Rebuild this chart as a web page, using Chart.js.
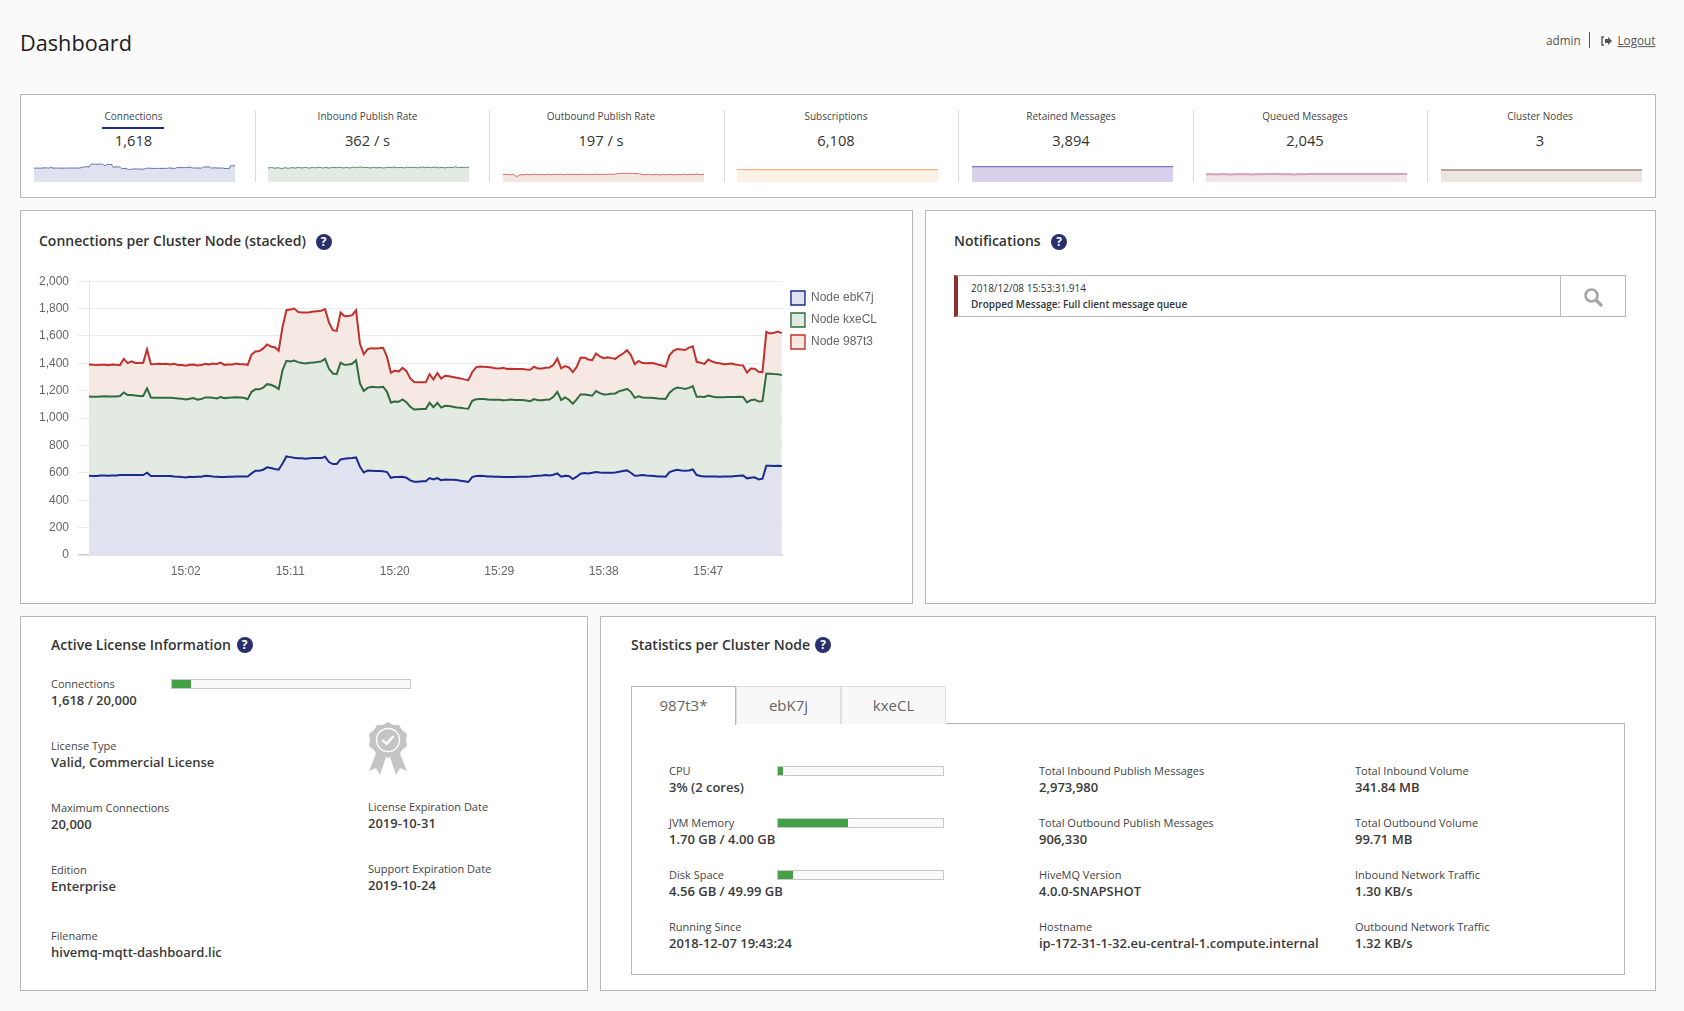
<!DOCTYPE html>
<html>
<head>
<meta charset="utf-8">
<title>Dashboard</title>
<script src="https://cdn.jsdelivr.net/npm/chart.js@4/dist/chart.umd.min.js"></script>
<style>
    html, body { margin: 0; padding: 0; background: #fafafa; }
    body { position: relative; width: 1684px; height: 1011px; overflow: hidden; font-family: "Open Sans", sans-serif; color: #3c3c3c; }
    .panel { position: absolute; box-sizing: border-box; background: #fff; border: 1px solid #b8b8b8; }
    .txt { position: absolute; white-space: nowrap; transform: translateY(-50%); line-height: 1; }
    .center { transform: translate(-50%, -50%); }
    .title { font-size: 21.7px; color: #1e1e1e; }
    .head { font-size: 14px; font-weight: 600; color: #333; }
    .tile { font-size: 10px; color: #444; }
    .tileValue { font-size: 14.7px; color: #333; }
    .label { font-size: 11px; color: #444; }
    .value { font-size: 13px; font-weight: 600; color: #3a3a3a; }
    .top { font-size: 11.7px; color: #555; }
    .note { font-size: 10px; color: #333; }
    .tabText { font-size: 15px; color: #666; }
    .help { position: absolute; width: 16px; height: 16px; border-radius: 50%; background: #2a2f6e; color: #fff; font-size: 12px; font-weight: 700; line-height: 16px; text-align: center; transform: translate(-50%, -50%); }
    .divider { position: absolute; width: 1px; background: #dcdcdc; }
    .bar { position: absolute; box-sizing: border-box; height: 10px; background: #fafafa; border: 1px solid #c8c8c8; }
    .bar div { height: 100%; background: #43a047; }
    .tab { position: absolute; box-sizing: border-box; top: 686px; height: 38px; background: #f8f8f8; border: 1px solid #dedede; border-bottom: none; }
    canvas { position: absolute; }
    svg { display: block; }
</style>
</head>
<body>
<script>
    // main chart, one sample every 20 seconds starting 14:53:40
    const startMinute = 893 + 40 / 60;
    const tickMinutes = [902, 911, 920, 929, 938, 947];
    const nodeNames = ['Node ebK7j', 'Node kxeCL', 'Node 987t3'];
    const nodeEbK7j = [579,577,577,581,581,579,581,581,584,584,584,584,584,584,584,601,577,577,577,577,
        577,577,574,572,569,567,572,569,572,572,579,577,574,572,569,569,572,572,574,574,
        574,574,596,616,616,623,640,635,628,623,669,720,715,710,706,706,703,706,708,708,
        708,718,679,664,664,698,703,706,708,713,645,603,618,616,613,613,611,606,564,569,
        569,572,564,545,535,535,538,538,562,552,562,547,552,550,550,547,543,538,533,569,
        577,579,577,574,574,572,572,569,569,569,569,572,572,572,574,577,579,581,584,581,
        586,596,572,579,577,555,572,594,599,596,601,606,603,601,601,601,603,608,613,618,
        601,579,581,584,581,579,577,574,574,572,606,616,623,618,616,618,625,584,577,574,
        574,574,574,572,574,574,574,577,579,581,560,564,567,552,557,652,652,650,652,650];
    const nodeKxeCL = [579,579,579,577,579,579,577,577,577,603,584,584,581,577,577,616,574,572,572,572,
        572,572,572,572,572,569,569,577,562,567,572,574,574,572,584,577,577,579,579,577,
        574,564,596,594,594,599,608,608,603,589,681,698,698,710,703,696,696,698,698,701,
        706,715,681,662,657,706,686,686,689,710,608,596,603,613,613,613,618,586,550,552,
        550,564,552,538,528,530,528,528,550,528,550,530,538,538,533,530,533,533,535,557,
        560,560,562,562,560,562,562,562,564,567,564,560,560,557,550,562,552,550,550,555,
        569,596,560,572,557,550,564,579,574,572,562,591,579,572,574,577,577,589,591,596,
        591,569,579,567,567,569,569,569,567,567,579,594,601,601,596,603,608,572,579,581,
        591,584,579,581,579,581,581,577,577,574,555,567,569,569,567,674,672,672,669,664];
    const node987t3 = [234,234,231,231,229,229,234,231,226,246,234,246,238,241,243,285,243,246,248,246,
        248,243,251,243,246,246,248,246,251,248,246,241,251,251,253,243,243,241,246,243,
        246,251,272,277,280,287,290,280,287,280,316,370,380,380,367,370,372,370,372,372,
        370,363,338,316,316,367,355,353,355,365,292,268,282,282,282,285,285,255,217,226,
        221,231,229,207,200,197,195,195,209,202,217,212,219,217,217,217,214,212,209,209,
        234,238,236,238,236,231,229,236,226,224,226,226,226,226,229,236,231,231,234,234,
        234,243,231,229,236,231,238,268,270,260,260,275,268,265,270,260,253,258,268,282,
        268,246,258,251,253,255,255,248,243,236,275,282,280,282,285,294,292,255,248,241,
        263,255,251,248,241,241,243,238,231,229,217,231,224,217,212,304,294,302,311,307];

    // summary tiles
    const tileNames = ['Connections', 'Inbound Publish Rate', 'Outbound Publish Rate', 'Subscriptions', 'Retained Messages', 'Queued Messages', 'Cluster Nodes'];
    const tileValues = ['1,618', '362 / s', '197 / s', '6,108', '3,894', '2,045', '3'];
    const inboundRate = [352,364,346,360,338,358,344,362,350,366,352,368,348,364,356,372,352,366,350,370,
        358,368,354,366,352,372,358,380,360,370,352,366,356,364,350,372,360,376,358,368,
        354,374,360,370,356,378,362,372,358,380,356,368,354,372,360,384,358,370,364,374];
    const outboundRate = [188,196,184,198,130,190,182,196,186,200,188,194,184,198,186,200,190,196,186,202,
        190,198,188,200,192,196,186,202,192,198,188,202,194,200,220,222,218,224,220,216,
        210,192,186,196,182,194,180,190,184,198,182,196,186,200,184,198,190,204,188,197];
    const subscriptionCount = [6150,6150,6145,6145,6140,6140,6135,6130,6120,6110,6100,6100,6090,6090,6090,6095,6095,6100,6100,6090,
        6080,6080,6085,6090,6095,6100,6100,6105,6105,6105,6105,6108,6108,6108,6108,6108,6108,6108,6108,6108];
    const retainedCount = [3894,3894,3894,3894,3894,3894,3894,3894,3894,3894,3894,3894,3894,3894,3894,3894,3894,3894,3894,3894];
    const queuedCount = [1980,2045,1900,2045,1960,1900,2045,1980,2045,1900,2045,1960,2045,2045,2045,1980,2045,1920,2045,1980,
        2045,2045,2045,2045,2045,2045,2045,2045,2045,2045,2045,2045,2045,2045,2045,2045,2045,2045,2045,2045];
    const clusterCount = [3,3,3,3,3,3,3,3,3,3,3,3,3,3,3,3,3,3,3,3];
    const connectionTotals = nodeEbK7j.map((v, i) => v + nodeKxeCL[i] + node987t3[i]);
    const tileSeries = [connectionTotals, inboundRate, outboundRate, subscriptionCount, retainedCount, queuedCount, clusterCount];
    const tileMax = [2200, 553, 563, 10837, 5563, 5624, 5.5];
    const tileCenters = [133.5, 367.5, 601, 836, 1071, 1305, 1540];
    const sparkLeft = [34, 268, 503, 737, 972, 1206, 1441];
    const sparkLines = ['#5a6ab4', '#4f7d5c', '#d2605a', '#f6b27c', '#8576c4', '#d3a3b8', '#b8a595'];
    const sparkFills = ['#e0e2f0', '#e3eae2', '#f6e6e0', '#fcf1e5', '#d9d1ec', '#f1e5eb', '#ede6e0'];
    const sparkWidths = [1, 0.9, 0.9, 1.2, 1.3, 2, 2];
    const dividerX = [254.5, 489, 723.5, 958, 1192.5, 1427];

    // text blocks
    const licenseFields = [
        ['Connections', '1,618 / 20,000', 51, 682.5],
        ['License Type', 'Valid, Commercial License', 51, 744.5],
        ['Maximum Connections', '20,000', 51, 806.5],
        ['Edition', 'Enterprise', 51, 868.5],
        ['Filename', 'hivemq-mqtt-dashboard.lic', 51, 934.5],
        ['License Expiration Date', '2019-10-31', 368, 805.5],
        ['Support Expiration Date', '2019-10-24', 368, 867.5]
    ];
    const statFields = [
        ['CPU', '3% (2 cores)', 669, 769.5],
        ['JVM Memory', '1.70 GB / 4.00 GB', 669, 821.5],
        ['Disk Space', '4.56 GB / 49.99 GB', 669, 873.5],
        ['Running Since', '2018-12-07 19:43:24', 669, 925.5],
        ['Total Inbound Publish Messages', '2,973,980', 1039, 769.5],
        ['Total Outbound Publish Messages', '906,330', 1039, 821.5],
        ['HiveMQ Version', '4.0.0-SNAPSHOT', 1039, 873.5],
        ['Hostname', 'ip-172-31-1-32.eu-central-1.compute.internal', 1039, 925.5],
        ['Total Inbound Volume', '341.84 MB', 1355, 769.5],
        ['Total Outbound Volume', '99.71 MB', 1355, 821.5],
        ['Inbound Network Traffic', '1.30 KB/s', 1355, 873.5],
        ['Outbound Network Traffic', '1.32 KB/s', 1355, 925.5]
    ];
    const usageBars = [
        [8.1, 171, 680, 240],
        [3, 777, 767, 167],
        [42.5, 777, 819, 167],
        [9.1, 777, 871, 167]
    ];

    function box(x, y, w, h) {
        const el = document.createElement('div');
        el.className = 'panel';
        el.style.cssText = `left:${x}px;top:${y}px;width:${w}px;height:${h}px`;
        document.body.appendChild(el);
        return el;
    }

    function text(str, x, y, cls) {
        const el = document.createElement('span');
        el.className = 'txt ' + cls;
        el.textContent = str;
        el.style.left = x + 'px';
        el.style.top = y + 'px';
        document.body.appendChild(el);
        return el;
    }

    function helpIcon(x, y) {
        const el = document.createElement('span');
        el.className = 'help';
        el.textContent = '?';
        el.style.left = x + 'px';
        el.style.top = y + 'px';
        document.body.appendChild(el);
    }

    function svgIcon(markup, x, y, w, h) {
        const holder = document.createElement('div');
        holder.style.cssText = `position:absolute;left:${x}px;top:${y}px;width:${w}px;height:${h}px`;
        holder.innerHTML = markup;
        document.body.appendChild(holder);
    }

    function addCanvas(x, y, w, h) {
        const wrap = document.createElement('div');
        wrap.style.cssText = `position:absolute;left:${x}px;top:${y}px;width:${w}px;height:${h}px`;
        const canvas = document.createElement('canvas');
        wrap.appendChild(canvas);
        document.body.appendChild(wrap);
        return canvas;
    }

    function formatMinute(value) {
        const minute = String(value % 60).padStart(2, '0');
        return `${Math.floor(value / 60)}:${minute}`;
    }

    function renderStaticParts() {
        text('Dashboard', 20, 43, 'title');
        text('admin', 1546, 41, 'top');
        const sep = document.createElement('div');
        sep.className = 'divider';
        sep.style.cssText = 'left:1589px;top:32px;height:16px;background:#555';
        document.body.appendChild(sep);
        svgIcon('<svg width="11" height="10" viewBox="0 0 11 10"><path d="M3 1H1v8h2" fill="none" stroke="#555" stroke-width="1.4"/><path d="M4 3h3V1l4 4-4 4V7H4z" fill="#555"/></svg>', 1601, 36, 11, 10);
        text('Logout', 1617.5, 41, 'top').style.textDecoration = 'underline';

        box(20, 94, 1636, 104);
        box(20, 210, 893, 394);
        box(925, 210, 731, 394);
        box(20, 616, 568, 375);
        box(600, 616, 1056, 375);
        box(631, 723, 994, 252);

        tileNames.forEach((name, i) => {
            text(name, tileCenters[i], 116, 'center tile');
            text(tileValues[i], tileCenters[i], 139.5, 'center tileValue');
        });
        const marker = document.createElement('div');
        marker.style.cssText = 'position:absolute;left:102px;top:127px;width:62px;height:2px;background:#1a2a8e';
        document.body.appendChild(marker);
        dividerX.forEach(x => {
            const d = document.createElement('div');
            d.className = 'divider';
            d.style.cssText = `left:${x}px;top:110px;height:72px`;
            document.body.appendChild(d);
        });

        text('Connections per Cluster Node (stacked)', 39, 241, 'head');
        helpIcon(323.5, 241.5);
        text('Notifications', 954, 241, 'head');
        helpIcon(1059, 241.5);
        text('Active License Information', 51, 645, 'head');
        helpIcon(244.5, 645);
        text('Statistics per Cluster Node', 631, 645, 'head');
        helpIcon(823, 645);

        const noteBox = box(954, 275, 672, 42);
        noteBox.style.borderLeft = '4px solid #8e2f2f';
        const noteSep = document.createElement('div');
        noteSep.className = 'divider';
        noteSep.style.cssText = 'left:1560px;top:275px;height:42px;background:#b8b8b8';
        document.body.appendChild(noteSep);
        text('2018/12/08 15:53:31.914', 971, 288, 'note');
        text('Dropped Message: Full client message queue', 971, 304, 'note').style.fontWeight = '600';
        svgIcon('<svg width="20" height="20" viewBox="0 0 20 20"><circle cx="8.5" cy="8.5" r="6" fill="none" stroke="#a5a5a5" stroke-width="2.6"/><path d="M13 13l5 5" stroke="#a5a5a5" stroke-width="3.2" stroke-linecap="round"/></svg>', 1583, 287, 20, 20);

        licenseFields.concat(statFields).forEach(f => {
            text(f[0], f[2], f[3], 'label');
            text(f[1], f[2], f[3] + 17.5, 'value');
        });
        usageBars.forEach(b => {
            const bar = document.createElement('div');
            bar.className = 'bar';
            bar.style.cssText = `left:${b[1]}px;top:${b[2] - 1}px;width:${b[3]}px`;
            const fill = document.createElement('div');
            fill.style.width = b[0] + '%';
            bar.appendChild(fill);
            document.body.appendChild(bar);
        });
        svgIcon('<svg width="42" height="54" viewBox="0 0 42 54"><path d="M10 30L2 50l7-3 4 7 6-18zM32 30l8 20-7-3-4 7-6-18z" fill="#c4c4c4"/><path d="M21 1l5 3 6 0 3 5 5 4-1 6 1 6-5 4-3 5-6 0-5 3-5-3-6 0-3-5-5-4 1-6-1-6 5-4 3-5 6 0z" fill="#c4c4c4"/><circle cx="21" cy="19" r="11.5" fill="none" stroke="#fff" stroke-width="1.4"/><path d="M15.5 19l4 4 7-8" fill="none" stroke="#fff" stroke-width="2.4"/></svg>', 367, 721, 42, 54);

        ['987t3*', 'ebK7j', 'kxeCL'].forEach((name, i) => {
            const left = [631, 736, 841][i];
            const width = [105, 105, 105][i];
            const tab = document.createElement('div');
            tab.className = 'tab';
            tab.style.cssText = `left:${left}px;width:${width}px`;
            if (i === 0) {
                tab.style.background = '#fff';
                tab.style.border = '1px solid #b8b8b8';
                tab.style.borderBottom = 'none';
                tab.style.height = '39px';
                tab.style.zIndex = 2;
            }
            document.body.appendChild(tab);
            text(name, left + width / 2, 704.5, 'center tabText').style.zIndex = 3;
        });
    }

    function renderMainChart() {
        const canvas = addCanvas(30, 265, 857, 320);
        const seriesColors = [
            ['#1a2a8e', '#e0e2f0'],
            ['#2f6b3f', '#e3eae2'],
            ['#c0302d', '#f6e8e2']
        ];
        const nodeValues = [nodeEbK7j, nodeKxeCL, node987t3];
        new Chart(canvas, {
            type: 'line',
            data: {
                datasets: nodeNames.map((name, i) => ({
                    label: name,
                    data: nodeValues[i].map((y, k) => ({ x: startMinute + k / 3, y: y })),
                    borderColor: seriesColors[i][0],
                    backgroundColor: seriesColors[i][1],
                    borderWidth: 2,
                    pointRadius: 0,
                    tension: 0,
                    fill: i === 0 ? 'origin' : '-1'
                }))
            },
            plugins: [{
                id: 'legendNudge',
                afterLayout: chart => { chart.legend.top += 2; }
            }],
            options: {
                responsive: true,
                maintainAspectRatio: false,
                animation: false,
                layout: { padding: { top: 16 } },
                plugins: {
                    tooltip: { enabled: false },
                    legend: {
                        position: 'right',
                        align: 'start',
                        labels: {
                            boxWidth: 14,
                            boxHeight: 14,
                            padding: 8,
                            color: '#666',
                            font: { family: '"Liberation Sans", Arial, sans-serif', size: 12, lineHeight: '14px' },
                            generateLabels: chart => Chart.defaults.plugins.legend.labels.generateLabels(chart).map(item => ({ ...item, lineWidth: 1.4 }))
                        }
                    }
                },
                scales: {
                    x: {
                        type: 'linear',
                        min: startMinute,
                        max: startMinute + 179.3 / 3,
                        grid: { display: false },
                        border: { display: false },
                        afterBuildTicks: axis => { axis.ticks = tickMinutes.map(v => ({ value: v })); },
                        afterFit: axis => { axis.height = 30; },
                        ticks: {
                            autoSkip: false,
                            maxRotation: 0,
                            padding: 1,
                            color: '#666',
                            font: { family: '"Liberation Sans", Arial, sans-serif', size: 12 },
                            callback: value => formatMinute(value)
                        }
                    },
                    y: {
                        stacked: true,
                        min: 0,
                        max: 2000,
                        afterFit: axis => { axis.width = 59; },
                        border: { color: '#e6e6e6', width: 1 },
                        grid: {
                            color: ctx => (ctx.tick && ctx.tick.value === 0 ? '#cccccc' : '#ececec'),
                            lineWidth: ctx => (ctx.tick && ctx.tick.value === 0 ? 1.5 : 1),
                            tickLength: 11
                        },
                        ticks: {
                            stepSize: 200,
                            padding: 9,
                            color: '#666',
                            font: { family: '"Liberation Sans", Arial, sans-serif', size: 12 },
                            callback: value => value.toLocaleString('en-US')
                        }
                    }
                }
            }
        });
    }

    function renderSparkline(i) {
        const canvas = addCanvas(sparkLeft[i], 160, 201, 22);
        new Chart(canvas, {
            type: 'line',
            data: {
                labels: tileSeries[i].map((v, k) => k),
                datasets: [{
                    data: tileSeries[i],
                    borderColor: sparkLines[i],
                    backgroundColor: sparkFills[i],
                    borderWidth: sparkWidths[i],
                    pointRadius: 0,
                    tension: 0,
                    fill: 'origin'
                }]
            },
            options: {
                responsive: true,
                maintainAspectRatio: false,
                animation: false,
                plugins: { legend: { display: false }, tooltip: { enabled: false } },
                scales: {
                    x: { display: false, offset: false },
                    y: { display: false, min: 0, max: tileMax[i] }
                }
            }
        });
    }

    document.addEventListener('DOMContentLoaded', () => {
        renderStaticParts();
        renderMainChart();
        tileSeries.forEach((series, i) => renderSparkline(i));
    });
</script>
</body>
</html>
